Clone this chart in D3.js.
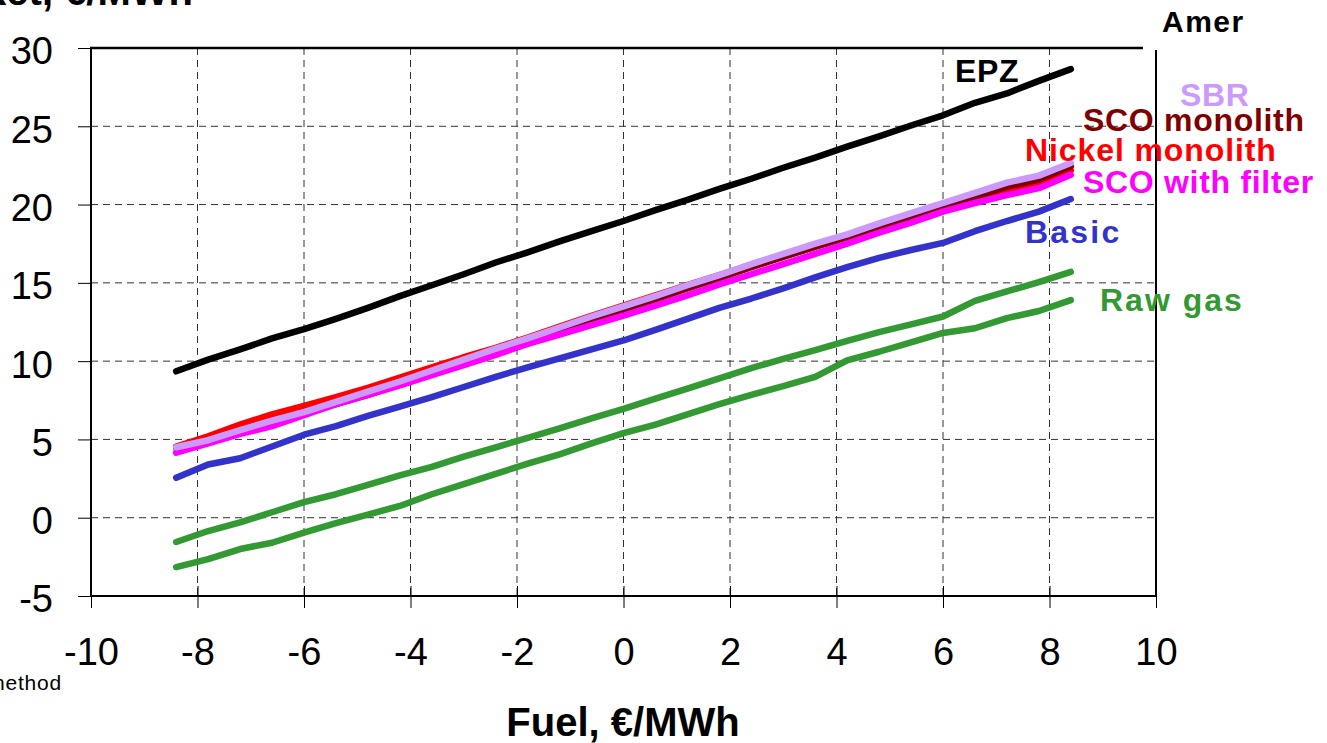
<!DOCTYPE html>
<html>
<head>
<meta charset="utf-8">
<script src="https://cdn.jsdelivr.net/npm/d3@7"></script>
<style>
  html, body { margin: 0; padding: 0; background: #fff; }
  svg { display: block; font-family: "Liberation Sans", Arial, sans-serif; }
</style>
</head>
<body>
<svg id="chart" width="1327" height="743"></svg>
<script>
// ---- data ----
const xFuel = [-8.4, -7.8, -7.2, -6.6, -6.0, -5.4, -4.8, -4.2, -3.6, -3.0, -2.4, -1.8, -1.2, -0.6, 0,
               0.6, 1.2, 1.8, 2.4, 3.0, 3.6, 4.2, 4.8, 5.4, 6.0, 6.6, 7.2, 7.8, 8.4];
const epz = [9.35, 10.1, 10.75, 11.45, 12.05, 12.7, 13.4, 14.15, 14.85, 15.55, 16.3, 16.95, 17.65, 18.3, 18.95,
             19.65, 20.3, 21.0, 21.65, 22.35, 23.0, 23.7, 24.35, 25.05, 25.7, 26.5, 27.1, 27.9, 28.65];
const sbr = [4.5, 4.95, 5.6, 6.2, 6.75, 7.4, 8.05, 8.7, 9.4, 10.1, 10.8, 11.45, 12.15, 12.85, 13.5,
             14.15, 14.85, 15.5, 16.2, 16.85, 17.5, 18.1, 18.8, 19.45, 20.1, 20.75, 21.4, 21.85, 22.65];
const scoMonolith = [4.45, 4.9, 5.55, 6.1, 6.65, 7.25, 7.85, 8.5, 9.2, 9.9, 10.6, 11.25, 11.95, 12.65, 13.3,
                     13.95, 14.65, 15.3, 16.0, 16.65, 17.3, 17.9, 18.6, 19.25, 19.85, 20.45, 21.15, 21.6, 22.45];
const nickelMonolith = [4.55, 5.2, 5.95, 6.6, 7.15, 7.7, 8.3, 8.95, 9.6, 10.25, 10.85, 11.5, 12.2, 12.9, 13.55,
                        14.2, 14.85, 15.5, 16.15, 16.8, 17.4, 18.0, 18.6, 19.2, 19.8, 20.3, 20.95, 21.35, 22.2];
const scoFilter = [4.15, 4.75, 5.35, 5.85, 6.55, 7.25, 7.85, 8.45, 9.1, 9.75, 10.4, 11.1, 11.7, 12.3, 12.9,
                   13.55, 14.2, 14.9, 15.55, 16.2, 16.85, 17.5, 18.2, 18.85, 19.55, 20.1, 20.6, 21.05, 21.9];
const basic = [2.55, 3.4, 3.8, 4.55, 5.3, 5.85, 6.5, 7.1, 7.7, 8.35, 9.0, 9.6, 10.17, 10.75, 11.32,
               12.0, 12.7, 13.4, 14.0, 14.65, 15.35, 16.0, 16.6, 17.1, 17.55, 18.3, 18.95, 19.55, 20.35];
const rawGasHigh = [-1.55, -0.85, -0.3, 0.35, 1.0, 1.5, 2.1, 2.7, 3.25, 3.9, 4.5, 5.1, 5.7, 6.35, 6.95,
                    7.6, 8.25, 8.9, 9.55, 10.15, 10.7, 11.3, 11.85, 12.35, 12.85, 13.85, 14.45, 15.05, 15.7];
const rawGasLow = [-3.15, -2.65, -2.0, -1.6, -0.95, -0.35, 0.2, 0.75, 1.5, 2.15, 2.8, 3.45, 4.05, 4.75, 5.4,
                   5.95, 6.6, 7.25, 7.85, 8.4, 9.0, 10.05, 10.6, 11.2, 11.8, 12.1, 12.75, 13.2, 13.9];

const xTicks = [-10, -8, -6, -4, -2, 0, 2, 4, 6, 8, 10];
const yTicks = [-5, 0, 5, 10, 15, 20, 25, 30];

const seriesNames = ["Raw gas", "Raw gas", "Basic", "Nickel monolith", "SCO monolith", "SCO with filter", "SBR", "EPZ"];
const seriesValues = [rawGasLow, rawGasHigh, basic, nickelMonolith, scoMonolith, scoFilter, sbr, epz];
const seriesColors = ["#339933", "#339933", "#3333CC", "#FF0000", "#800000", "#FF00FF", "#CC99FF", "#000000"];

// labels: text, color
const labels = [
  {t: "EPZ", c: "#000000", x: 955, y: 82, ls: 0.7},
  {t: "SBR", c: "#CC99FF", x: 1180, y: 106, ls: 0.7},
  {t: "SCO monolith", c: "#800000", x: 1083, y: 131, ls: 0.7},
  {t: "Nickel monolith", c: "#FF0000", x: 1025, y: 161, ls: 0.9},
  {t: "SCO with filter", c: "#FF00FF", x: 1083, y: 193, ls: 0.7},
  {t: "Basic", c: "#3333CC", x: 1025, y: 243, ls: 2.2},
  {t: "Raw gas", c: "#339933", x: 1100, y: 311, ls: 2.0}
];

// ---- drawing ----
const svg = d3.select("#chart");
const L = 91, R = 1156, T = 48, B = 596;
const x = d3.scaleLinear().domain([-10, 10]).range([L, R]);
const y = d3.scaleLinear().domain([-5, 30]).range([B, T]);
const fmt = d => String(d);

// grid
const grid = svg.append("g");
grid.selectAll("line.v").data(xTicks.filter(d => d > -10 && d < 10)).enter().append("line")
  .attr("x1", d => x(d)).attr("x2", d => x(d)).attr("y1", T).attr("y2", B)
  .attr("stroke", "#333").attr("stroke-width", 1).attr("stroke-dasharray", "7,5");
grid.selectAll("line.h").data(yTicks.filter(d => d > -5 && d < 30)).enter().append("line")
  .attr("x1", L).attr("x2", R).attr("y1", d => y(d)).attr("y2", d => y(d))
  .attr("stroke", "#333").attr("stroke-width", 1).attr("stroke-dasharray", "7,5");

// axes
const yAxis = d3.axisLeft(y).tickValues(yTicks).tickSize(13).tickPadding(25).tickFormat(fmt);
const gy = svg.append("g").attr("transform", `translate(${L},0)`).call(yAxis);
gy.select(".domain").remove();
gy.selectAll("text").attr("font-size", 38).attr("fill", "#000").attr("dy", "0.42em")
  .attr("font-family", "Liberation Sans, Arial, sans-serif");
gy.selectAll("line").attr("stroke", "#000");

const xAxis = d3.axisBottom(x).tickValues(xTicks).tickSize(12).tickPadding(30).tickFormat(fmt);
const gx = svg.append("g").attr("transform", `translate(0,${B})`).call(xAxis);
gx.select(".domain").remove();
gx.selectAll(".tick line").attr("y1", -10).attr("stroke", "#000");
gx.selectAll("text").attr("font-size", 38).attr("fill", "#000")
  .attr("font-family", "Liberation Sans, Arial, sans-serif");

// frame
svg.append("line").attr("x1", L - 1).attr("x2", 1143).attr("y1", T).attr("y2", T).attr("stroke", "#000").attr("stroke-width", 2.5);
svg.append("line").attr("x1", L).attr("x2", L).attr("y1", T).attr("y2", B).attr("stroke", "#000").attr("stroke-width", 2);
svg.append("line").attr("x1", L).attr("x2", R).attr("y1", B).attr("y2", B).attr("stroke", "#000").attr("stroke-width", 2);
svg.append("line").attr("x1", R).attr("x2", R).attr("y1", T + 2).attr("y2", B).attr("stroke", "#000").attr("stroke-width", 2);

// series lines
const line = d3.line().x((d, i) => x(xFuel[i])).y(d => y(d));
svg.append("g").selectAll("path").data(seriesValues).enter().append("path")
  .attr("d", d => line(d))
  .attr("fill", "none")
  .attr("stroke", (d, i) => seriesColors[i])
  .attr("stroke-width", 6.5)
  .attr("stroke-linejoin", "round")
  .attr("stroke-linecap", "round");

// series labels
svg.append("g").selectAll("text").data(labels).enter().append("text")
  .attr("x", d => d.x).attr("y", d => d.y)
  .attr("fill", d => d.c)
  .attr("font-size", 32).attr("font-weight", "bold")
  .attr("letter-spacing", d => d.ls + "px")
  .text(d => d.t);

// other texts
svg.append("text").attr("x", 193).attr("y", 5).attr("text-anchor", "end")
  .attr("font-size", 40).attr("font-weight", "bold").text("Price to market, €/MWh");
svg.append("text").attr("x", 623).attr("y", 736).attr("text-anchor", "middle")
  .attr("font-size", 40).attr("font-weight", "bold").text("Fuel, €/MWh");
svg.append("text").attr("x", 1162).attr("y", 32)
  .attr("font-size", 30).attr("font-weight", "bold").attr("letter-spacing", "1.5px").text("Amer");
svg.append("text").attr("x", 62).attr("y", 690).attr("text-anchor", "end")
  .attr("font-size", 21).attr("letter-spacing", "0.8px").text("method");
</script>
</body>
</html>
